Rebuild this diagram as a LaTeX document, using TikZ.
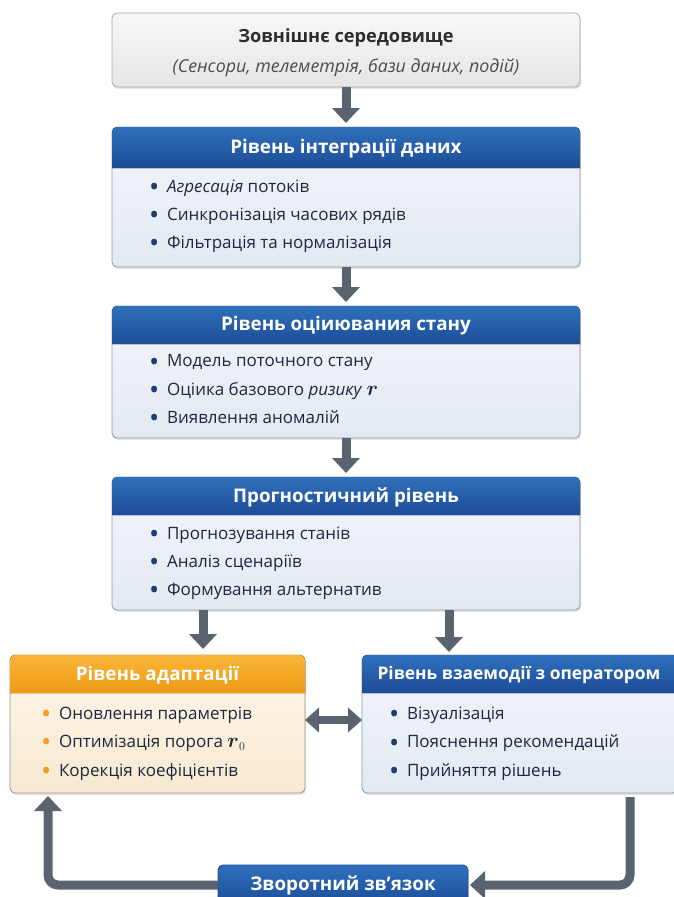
\documentclass[tikz,border=0pt]{standalone}
\usepackage{amsmath}
\usepackage{graphicx}
\usepackage{fontspec}
\setmainfont{Open Sans}
\usetikzlibrary{arrows.meta, positioning, shadows, calc}

\definecolor{hdrblue}{HTML}{3070BC}
\definecolor{hdrbluedark}{HTML}{1C4C97}
\definecolor{hdrorange}{HTML}{F9B53A}
\definecolor{hdrorangedark}{HTML}{EE9B14}
\definecolor{bodyblue}{HTML}{F3F6FA}
\definecolor{bodybluelow}{HTML}{E3E9F2}
\definecolor{bodyorange}{HTML}{FDF6EA}
\definecolor{bodyorangelow}{HTML}{F7E9D0}
\definecolor{bodygray}{HTML}{F8F8F8}
\definecolor{bodygraylow}{HTML}{E5E5E6}
\definecolor{edgegray}{HTML}{8D9AAD}
\definecolor{arrowgray}{HTML}{5A6470}
\definecolor{itemtext}{HTML}{1D2840}
\definecolor{bulletblue}{HTML}{1F3C74}
\definecolor{bulletorange}{HTML}{F0A020}
\definecolor{titlegray}{HTML}{2C2C2C}

\tikzset{
  panel/.style={draw=edgegray, line width=0.8pt, rounded corners=5pt,
    top color=bodyblue, bottom color=bodybluelow, anchor=north west,
    inner sep=0pt, outer sep=0pt, minimum width=468pt,
    drop shadow={opacity=0.2, shadow xshift=1pt, shadow yshift=-2pt}},
  warmpanel/.style={panel, top color=bodyorange, bottom color=bodyorangelow, draw=edgegray!80!orange},
  graypanel/.style={panel, top color=bodygray, bottom color=bodygraylow, draw=gray!70},
  bluehead/.style={top color=hdrblue, bottom color=hdrbluedark},
  orangehead/.style={top color=hdrorange, bottom color=hdrorangedark},
  headtitle/.style={text=white, font=\fontsize{18.8}{23}\selectfont\bfseries},
  item/.style={anchor=west, inner sep=0pt, text=itemtext, font=\fontsize{17}{21}\selectfont},
  flow/.style={draw=arrowgray, line width=9pt, -{Triangle[width=27pt,length=15pt]}},
}

% header strip with rounded top corners
\newcommand{\layerhead}[3]{%
  \fill[#3] ($(#1.north west)+(0,-#2)$) [rounded corners=5pt] -- (#1.north west)
    -- (#1.north east) [sharp corners] -- ($(#1.north east)+(0,-#2)$) -- cycle;}
% list bullet
\newcommand{\blt}[1]{\textcolor{#1}{\raisebox{-4.2pt}{\scalebox{1.6}{\textbullet}}}\hspace{0.45em}}
% risk symbol
\newcommand{\risk}{{\fontsize{20}{20}\selectfont$\boldsymbol{r}$}}

\begin{document}
\begin{tikzpicture}[x=1pt, y=1pt]
  \useasboundingbox[fill=white] (0,0) rectangle (673,-897);

  % panels
  \node[graypanel, minimum height=74pt] (env) at (112,-13) {};
  \node[panel, minimum height=140pt] (integ) at (112,-127) {};
  \node[panel, minimum height=132pt] (state) at (112,-306) {};
  \node[panel, minimum height=133pt] (prog) at (112,-477) {};
  \node[warmpanel, minimum width=295pt, minimum height=138pt] (adapt) at (10,-655) {};
  \node[panel, minimum width=316pt, minimum height=138pt] (oper) at (362,-655) {};

  \layerhead{integ}{41}{bluehead}
  \layerhead{state}{38}{bluehead}
  \layerhead{prog}{38}{bluehead}
  \layerhead{adapt}{38}{orangehead}
  \layerhead{oper}{38}{bluehead}

  % titles
  \node[text=titlegray, font=\fontsize{18.2}{24}\selectfont\bfseries] (envt) at ($(env.north)+(0,-25)$) {Зовнішнє середовище};
  \node[text=titlegray!85, font=\fontsize{17.8}{22}\selectfont\itshape] (envs) at ($(env.north)+(0,-55)$) {(Сенсори, телеметрія, бази даних, подій)};
  \node[headtitle] (integt) at ($(integ.north)+(0,-22)$) {Рівень інтеграції даних};
  \node[headtitle] (statet) at ($(state.north)+(0,-20)$) {Рівень оціиювания стану};
  \node[headtitle] (progt) at ($(prog.north)+(0,-20)$) {Прогностичний рівень};
  \node[headtitle] (adaptt) at ($(adapt.north)+(0,-20)$) {Рівень адаптації};
  \node[headtitle, font=\fontsize{17.4}{22}\selectfont\bfseries] (opert) at (519,-675) {Рівень взаемодії з оператором};

  % items
  \foreach \t [count=\i] in {{\textit{Агресація} потоків}, {Синкронізація часових рядів}, {Фільтрація та нормалізація}}
    \node[item] (integ-\i) at ($(integ.north west)+(37,-61-28*\i+28)$) {\blt{bulletblue}\t};
  \foreach \t [count=\i] in {{Модель поточного стану}, {Оціика базового \textit{ризику} \risk}, {Виявлення аномалій}}
    \node[item] (state-\i) at ($(state.north west)+(37,-57-28*\i+28)$) {\blt{bulletblue}\t};
  \foreach \t [count=\i] in {{Прогнозування станів}, {Аналіз сценаріїв}, {Формування альтернатив}}
    \node[item] (prog-\i) at ($(prog.north west)+(37,-58-28*\i+28)$) {\blt{bulletblue}\t};
  \foreach \t [count=\i] in {{Оновлення параметрів}, {Оптимізація порога \risk$_0$}, {Корекція коефіцієнтів}}
    \node[item] (adapt-\i) at ($(adapt.north west)+(31,-60-28.5*\i+28.5)$) {\blt{bulletorange}\t};
  \foreach \t [count=\i] in {{Візуалізація}, {Пояснення рекомендацій}, {Прийняття рішень}}
    \node[item] (oper-\i) at ($(oper.north west)+(27,-60-28.5*\i+28.5)$) {\blt{bulletblue}\t};

  % feedback box
  \node[panel, bluehead, draw=hdrbluedark, minimum width=250pt, minimum height=40pt] (fb) at (218,-865) {};
  \node[headtitle] (fbt) at (fb.center) {Зворотний зв’язок};

  % connectors
  \draw[flow, shorten >=4pt] (env.south) -- (integ.north);
  \draw[flow, shorten >=4pt] (integ.south) -- (state.north);
  \draw[flow, shorten >=4pt] (state.south) -- (prog.north);
  \coordinate (ldrop) at (203,-610);
  \coordinate (rdrop) at (449,-610);
  \draw[flow, shorten >=6pt] (ldrop) -- (ldrop |- adapt.north);
  \draw[flow, shorten >=3pt] (rdrop) -- (rdrop |- oper.north);
  \draw[draw=arrowgray, line width=8pt, {Triangle[width=24pt,length=14pt]}-{Triangle[width=24pt,length=14pt]}]
    (adapt.east |- 0,-720) -- (oper.west |- 0,-720);
  \coordinate (fbout) at (630,-797);
  \draw[flow, rounded corners=10pt, shorten >=2pt] (fbout) |- (fb.east);
  \coordinate (fbin) at (48,-793);
  \draw[flow, rounded corners=10pt, shorten >=3pt] (fb.west) -| (fbin);
\end{tikzpicture}
\end{document}
